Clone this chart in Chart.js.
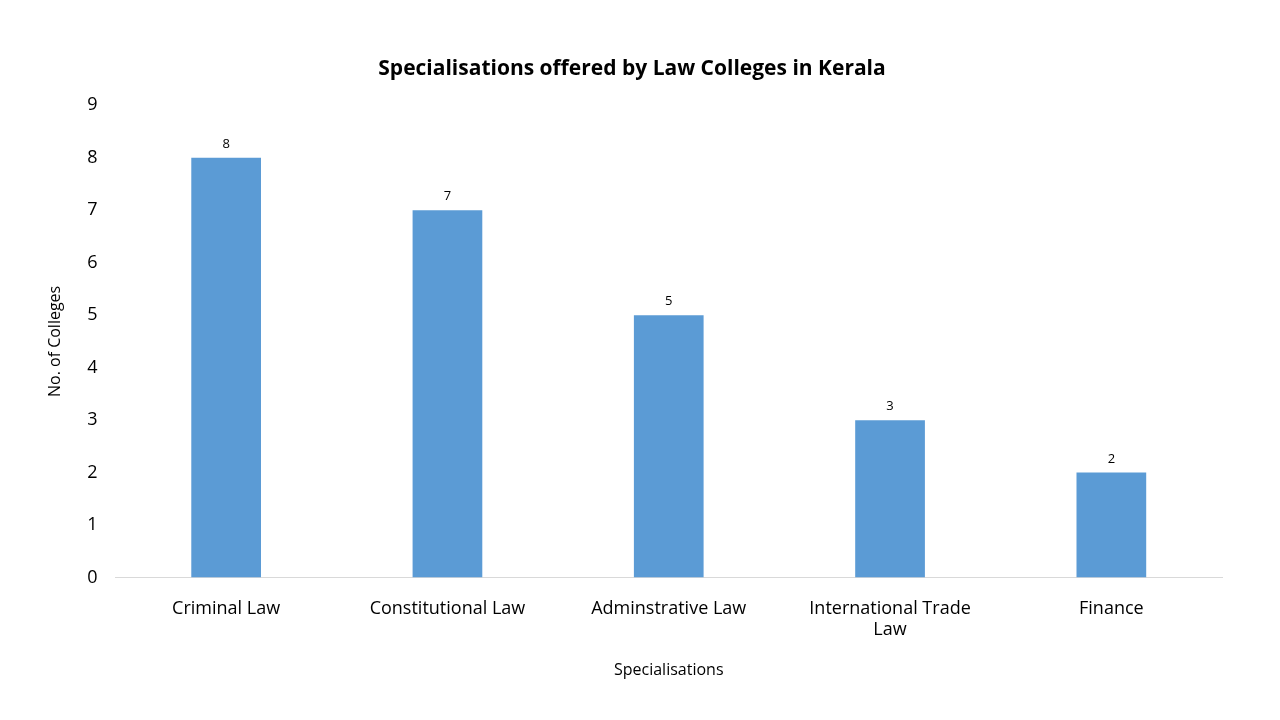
<!DOCTYPE html>
<html>
<head>
<meta charset="utf-8">
<script src="https://cdn.jsdelivr.net/npm/chart.js@4"></script>
<style>
  html, body { margin: 0; padding: 0; background: #fff; }
  #wrap { width: 1280px; height: 720px; }
</style>
</head>
<body>
<div id="wrap"><canvas id="chart"></canvas></div>
<script>
const categories = ['Criminal Law', 'Constitutional Law', 'Adminstrative Law', ['International Trade', 'Law'], 'Finance'];
const colleges = [8, 7, 5, 3, 2];
const yTicks = [0, 1, 2, 3, 4, 5, 6, 7, 8, 9];

const fontFamily = '"Open Sans", "Liberation Sans", sans-serif';

// value labels above each bar
const barLabels = {
  id: 'barLabels',
  afterDatasetsDraw(chart) {
    const ctx = chart.ctx;
    const meta = chart.getDatasetMeta(0);
    ctx.save();
    ctx.font = '13px ' + fontFamily;
    ctx.fillStyle = '#000';
    ctx.textAlign = 'center';
    ctx.textBaseline = 'bottom';
    meta.data.forEach((bar, i) => {
      ctx.fillText(colleges[i], bar.x, bar.y - 7);
    });
    ctx.restore();
  }
};

new Chart(document.getElementById('chart'), {
  type: 'bar',
  data: {
    labels: categories,
    datasets: [{
      data: colleges,
      backgroundColor: '#5b9bd5',
      categoryPercentage: 1,
      barPercentage: 0.315
    }]
  },
  options: {
    responsive: true,
    maintainAspectRatio: false,
    animation: false,
    layout: { padding: { top: 56, right: 58, bottom: 36, left: 42 } },
    plugins: {
      legend: { display: false },
      tooltip: { enabled: false },
      title: {
        display: true,
        text: 'Specialisations offered by Law Colleges in Kerala',
        color: '#000',
        font: { family: fontFamily, size: 21, weight: 'bold' },
        padding: { top: 0, bottom: 24 }
      }
    },
    scales: {
      x: {
        grid: { display: false, drawTicks: false },
        border: { color: '#d9d9d9' },
        ticks: { color: '#000', font: { family: fontFamily, size: 18 }, padding: 20, maxRotation: 0 },
        title: {
          display: true,
          text: 'Specialisations',
          color: '#000',
          font: { family: fontFamily, size: 16 },
          padding: { top: 0 }
        }
      },
      y: {
        min: 0,
        max: 9,
        afterBuildTicks(axis) { axis.ticks = yTicks.map(v => ({ value: v })); },
        grid: { display: false, drawTicks: false },
        border: { display: false },
        ticks: { color: '#000', font: { family: fontFamily, size: 18 }, padding: 18 },
        title: {
          display: true,
          text: 'No. of Colleges',
          color: '#000',
          font: { family: fontFamily, size: 16 },
          padding: { bottom: 4 }
        }
      }
    }
  },
  plugins: [barLabels]
});
</script>
</body>
</html>
